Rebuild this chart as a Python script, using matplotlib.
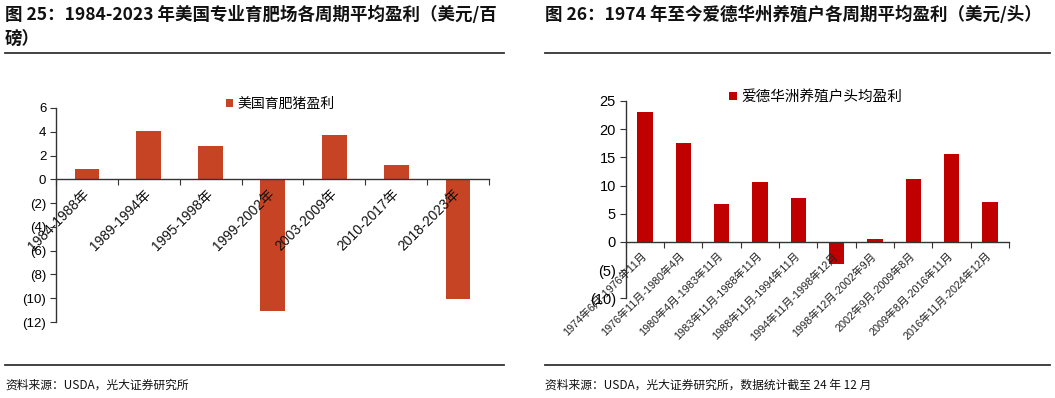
import numpy as np
import matplotlib.pyplot as plt
from matplotlib.lines import Line2D
from matplotlib.ticker import FuncFormatter

W, H = 1055, 398

# 图25：美国专业育肥场各周期平均盈利（美元/百磅）
us_periods = ['1984-1988年', '1989-1994年', '1995-1998年', '1999-2002年',
              '2003-2009年', '2010-2017年', '2018-2023年']
us_profit = [0.84, 4.08, 2.77, -11.1, 3.7, 1.23, -10.1]

# 图26：爱德华州养殖户各周期平均盈利（美元/头）
iowa_periods = ['1974年6月-1976年11月', '1976年11月-1980年4月', '1980年4月-1983年11月',
                '1983年11月-1988年11月', '1988年11月-1994年11月', '1994年11月-1998年12月',
                '1998年12月-2002年9月', '2002年9月-2009年8月', '2009年8月-2016年11月',
                '2016年11月-2024年12月']
iowa_profit = [23.0, 17.5, 6.7, 10.55, 7.76, -3.85, 0.6, 11.14, 15.6, 7.05]

cjk = ['Noto Sans CJK SC', 'DejaVu Sans']
latin = ['Liberation Sans', 'Noto Sans CJK SC']
plt.rcParams['font.family'] = latin


def px(x, y):
    # pixel position in the 1055x398 canvas -> figure fraction
    return x / W, 1 - y / H


def paren_fmt(v, pos):
    if v < 0:
        return f'({-v:g})'
    return f'{v:g}'


def draw_bars(ax, labels, values, color, ylim, step, ysize, xsize, xcolor,
              legend_label, legend_xy, legend_size):
    n = len(labels)
    x = np.arange(n)
    ax.bar(x, values, width=0.4, color=color, label=legend_label, zorder=1)
    ax.set_axisbelow(False)  # axis + labels drawn over the bars
    ax.set_xlim(-0.5, n - 0.5)
    ax.set_ylim(*ylim)
    ax.set_yticks(np.arange(ylim[0], ylim[1] + step, step))
    ax.yaxis.set_major_formatter(FuncFormatter(paren_fmt))

    for s in ['top', 'right']:
        ax.spines[s].set_visible(False)
    ax.spines['bottom'].set_position(('data', 0))
    for s in ['left', 'bottom']:
        ax.spines[s].set_color('#333333')
        ax.spines[s].set_linewidth(1)

    # tick marks between categories, labels under each bar
    ax.set_xticks(np.arange(n + 1) - 0.5)
    ax.set_xticklabels([])
    ax.set_xticks(x, minor=True)
    ax.set_xticklabels(labels, minor=True, rotation=45, ha='right', va='center',
                       rotation_mode='anchor', fontsize=xsize, color=xcolor)
    ax.tick_params(axis='x', which='major', direction='out', length=4, color='#333333')
    ax.tick_params(axis='x', which='minor', length=0, pad=9)
    ax.tick_params(axis='y', direction='out', length=4, color='#333333',
                   labelsize=ysize, pad=3)

    ax.legend(loc='center', bbox_to_anchor=px(*legend_xy),
              bbox_transform=ax.figure.transFigure, frameon=False,
              handlelength=0.55, handleheight=0.55, handletextpad=0.3,
              prop={'family': cjk, 'size': legend_size})


fig = plt.figure(figsize=(W / 100, H / 100), dpi=100)

# left panel
l0, b0 = px(56, 322)
l1, b1 = px(489, 108)
ax1 = fig.add_axes([l0, b0, l1 - l0, b1 - b0])
draw_bars(ax1, us_periods, us_profit, '#C64324', (-12, 6), 2, 9.5, 10, '#111111',
          '美国育肥猪盈利', (280, 104), 10)

# right panel
r0, c0 = px(625.7, 298.3)
r1, c1 = px(1009, 101)
ax2 = fig.add_axes([r0, c0, r1 - r0, c1 - c0])
draw_bars(ax2, iowa_periods, iowa_profit, '#C00000', (-10, 25), 5, 10.5, 7.8, '#222222',
          '爱德华洲养殖户头均盈利', (816, 97), 10.5)

# titles
title_kw = dict(fontsize=12.6, fontweight='bold', family=cjk, color='#111111',
                ha='left', va='center')
fig.text(*px(5, 15), '图 25：1984-2023 年美国专业育肥场各周期平均盈利（美元/百', **title_kw)
fig.text(*px(5, 39), '磅）', **title_kw)
fig.text(*px(545, 15), '图 26：1974 年至今爱德华州养殖户各周期平均盈利（美元/头）', **title_kw)

# separator lines
for xa, xb in [(5, 504), (545, 1050)]:
    for y in (53, 365):
        (xa_f, y_f), (xb_f, _) = px(xa, y), px(xb, y)
        fig.add_artist(Line2D([xa_f, xb_f], [y_f, y_f], color='#333333', lw=1.3))

# sources
src_kw = dict(fontsize=8.5, family=cjk, color='#111111', ha='left', va='center')
fig.text(*px(5, 385), '资料来源：USDA，光大证券研究所', **src_kw)
fig.text(*px(545, 385), '资料来源：USDA，光大证券研究所，数据统计截至 24 年 12 月', **src_kw)

fig.savefig('out.png', dpi=100)
